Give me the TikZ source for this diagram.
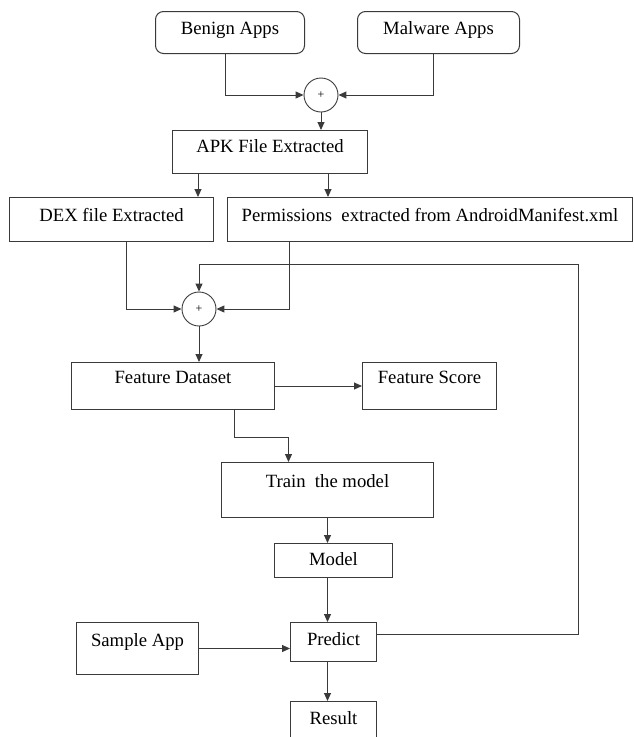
\documentclass[tikz,border=0pt]{standalone}
\usepackage{fontspec}
\setmainfont{Liberation Serif}
\usetikzlibrary{positioning, arrows.meta}
\definecolor{lineGrey}{HTML}{3A3A3A}

\begin{document}
\begin{tikzpicture}[x=1pt, y=-1pt,
    box/.style={draw=lineGrey, line width=1pt, inner sep=0pt, anchor=north west,
      text height=13pt, font=\fontsize{18.7}{22}\selectfont},
    sum/.style={circle, draw=lineGrey, line width=0.9pt, minimum size=34pt, inner sep=0pt,
      font=\fontsize{12}{14}\selectfont},
    arr/.style={draw=lineGrey, line width=1pt, -{Triangle[length=8pt, width=7pt]}}]
    \useasboundingbox (0,0) rectangle (633,737);
    \clip (0,0) rectangle (633,737);
    % sources
    \node[box, rounded corners=8pt, minimum width=149pt, minimum height=42pt, text depth=9pt] (benign) at (155,11) {Benign\ Apps};
    \node[box, rounded corners=8pt, minimum width=162pt, minimum height=42pt, text depth=9pt] (malware) at (357,11) {Malware Apps};
    \node[sum] (plus1) at (321,95) {+};
    \node[box, minimum width=195pt, minimum height=43pt, text depth=12pt] (apk) at (172,130) {APK File Extracted};
    \node[box, minimum width=204pt, minimum height=44pt, text depth=9pt] (dex) at (9,197) {DEX file Extracted};
    \node[box, minimum width=405pt, minimum height=44pt, text depth=9pt] (perm) at (227,197) {Permissions\ \ extracted from AndroidManifest.xml};
    \node[sum] (plus2) at (199,309) {+};
    % dataset and model
    \node[box, minimum width=203pt, minimum height=47pt, text depth=18pt] (fd) at (71,362) {Feature Dataset};
    \node[box, minimum width=134pt, minimum height=47pt, text depth=18pt] (fs) at (362,362) {Feature Score};
    \node[box, minimum width=212pt, minimum height=55pt, text depth=18pt] (train) at (221,462) {Train\ \ the model};
    \node[box, minimum width=118pt, minimum height=34pt, text depth=3pt] (model) at (274,543) {Model};
    \node[box, minimum width=86pt, minimum height=39pt, text depth=6pt] (predict) at (290,622) {Predict};
    \node[box, minimum width=122pt, minimum height=52pt, text depth=17pt] (sample) at (76,622) {Sample\ App};
    \node[box, minimum width=86pt, minimum height=45pt, text depth=12pt] (result) at (290,701) {Result};
    \coordinate (fb) at (578,264);

    \draw[arr] ([xshift=-4.5pt]benign.south) |- (plus1);
    \draw[arr] ([xshift=-5pt]malware.south) |- (plus1);
    \draw[arr] (plus1) -- (plus1 |- apk.north);
    \draw[arr] ([xshift=26pt]apk.south west) -- ([xshift=26pt]apk.south west |- dex.north);
    \draw[arr] ([xshift=-40pt]apk.south east) -- ([xshift=-40pt]apk.south east |- perm.north);
    \draw[arr] ([xshift=15pt]dex.south) |- (plus2);
    \draw[arr] ([xshift=62pt]perm.south west) |- (plus2);
    \draw[arr] (plus2) -- (plus2 |- fd.north);
    \draw[arr] (fd.east) -- (fs.west);
    \draw[arr] ([xshift=61.5pt]fd.south) -- ++(0,27) -| ([xshift=-39pt]train.north);
    \draw[arr] (train.south) -- (train.south |- model.north);
    \draw[arr] (train.south |- model.south) -- (train.south |- predict.north);
    \draw[arr] (sample.east) -- (sample.east -| predict.west);
    \draw[arr] (train.south |- predict.south) -- (train.south |- result.north);
    % feedback to the merge
    \draw[arr] ([yshift=7.5pt]predict.east) -| (fb) -| (plus2.north);
\end{tikzpicture}
\end{document}
